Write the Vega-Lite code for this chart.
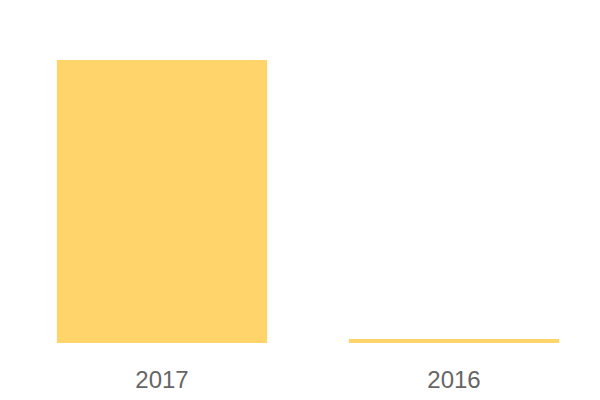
{
  "$schema": "https://vega.github.io/schema/vega-lite/v6.json",
  "width": 584,
  "height": 283,
  "autosize": {"type": "none"},
  "padding": {"left": 16, "top": 60, "right": 0, "bottom": 57},
  "background": "white",
  "config": {"view": {"stroke": null}},
  "data": {"values": [
    {"year": "2017", "value": 100},
    {"year": "2016", "value": 1.4}
  ]},
  "mark": {"type": "bar", "color": "#FED46B"},
  "encoding": {
    "x": {
      "field": "year", "type": "nominal", "sort": null,
      "scale": {"paddingInner": 0.28, "paddingOuter": 0.14},
      "axis": {"title": null, "domain": false, "ticks": false, "labelAngle": 0,
               "labelFontSize": 24, "labelColor": "#666666", "labelFont": "Liberation Sans",
               "labelPadding": 25}
    },
    "y": {
      "field": "value", "type": "quantitative",
      "scale": {"domain": [0, 100], "nice": false},
      "axis": null
    }
  }
}
